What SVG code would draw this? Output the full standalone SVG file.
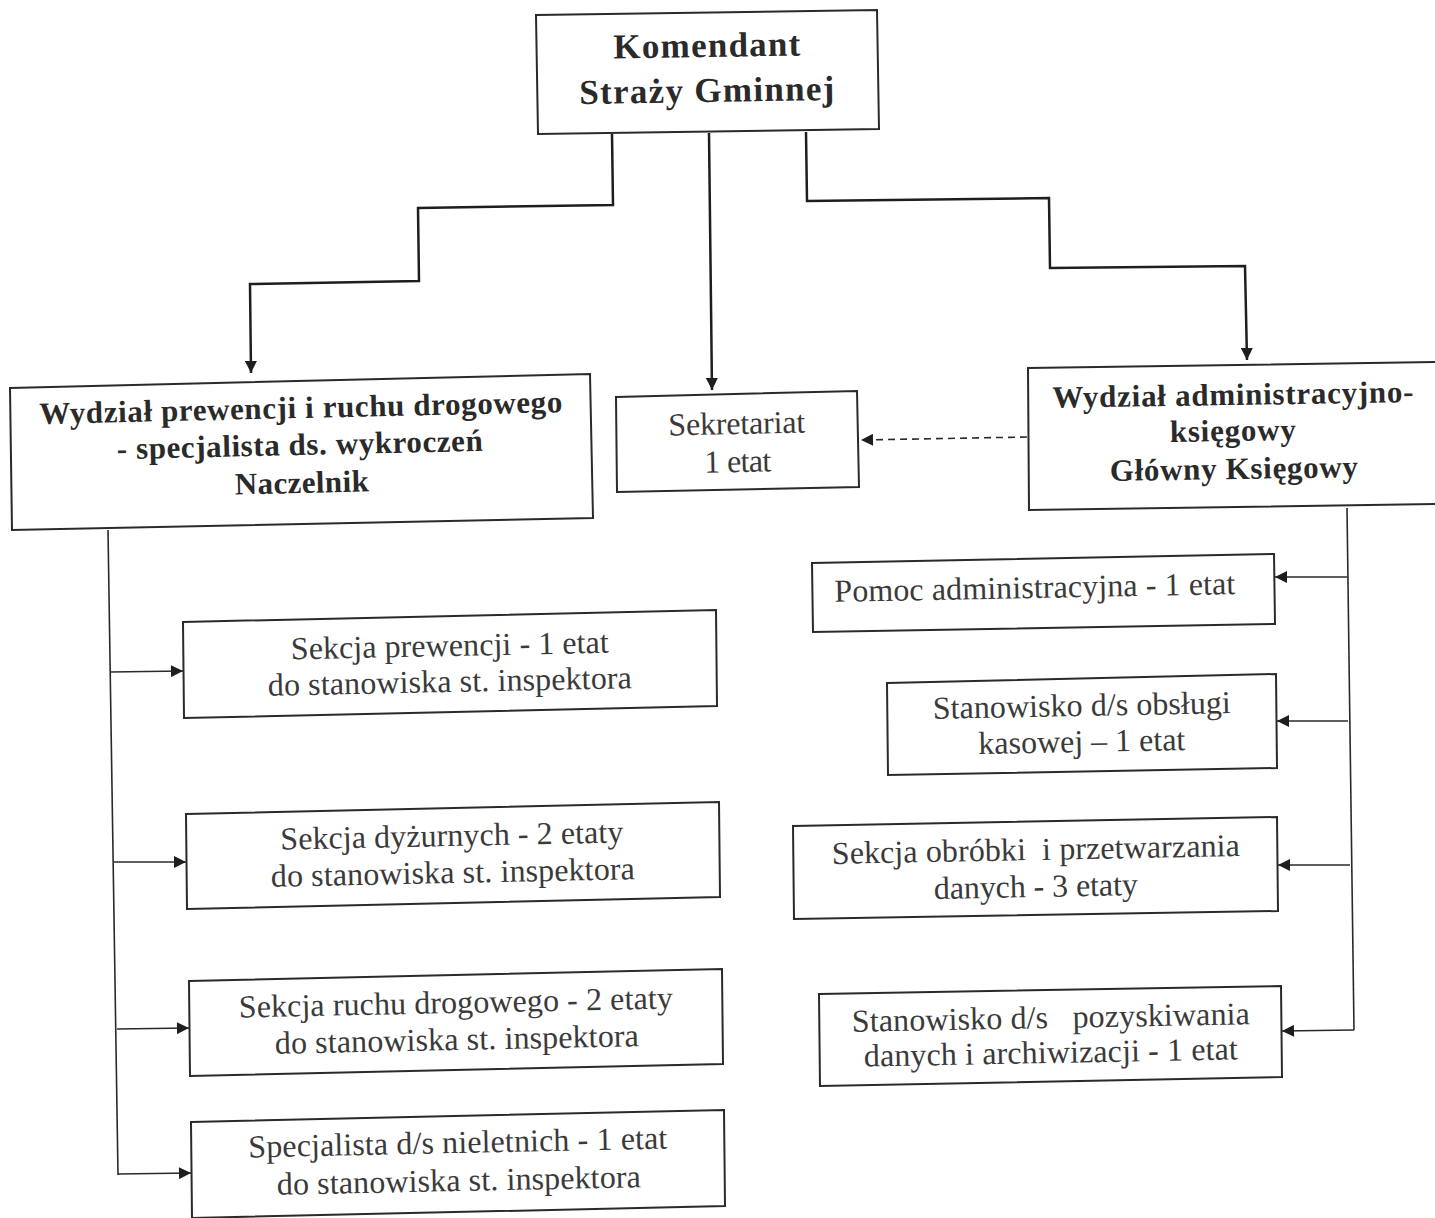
<svg xmlns="http://www.w3.org/2000/svg" width="1435" height="1218" viewBox="0 0 1435 1218">
<style>
.box{fill:#fff;stroke:#2a2a2a;stroke-width:2}
.t{font-family:"Liberation Serif","Times New Roman",serif;font-size:32px;fill:#3a3a3a;text-anchor:middle}
.b{font-family:"Liberation Serif","Times New Roman",serif;font-size:31px;font-weight:bold;fill:#2a2a2a;text-anchor:middle}
.big{font-size:35px}
.c{fill:none;stroke:#1e1e1e;stroke-width:2.5}
.s{fill:none;stroke:#2a2a2a;stroke-width:1.6}
.d{fill:none;stroke:#2a2a2a;stroke-width:1.6;stroke-dasharray:7 5}
</style>
<defs>
<marker id="ah" viewBox="0 0 10 10" refX="10" refY="5" markerWidth="16" markerHeight="12" markerUnits="userSpaceOnUse" orient="auto">
<path d="M0,0 L10,5 L0,10 z" fill="#1e1e1e"/>
</marker>
</defs>
<rect width="1435" height="1218" fill="#fff"/>

<g id="connectors">
<polyline class="c" points="612,134 613,205 418,208 419,281 250,284 251,373" marker-end="url(#ah)"/>
<polyline class="c" points="709,133 712,390" marker-end="url(#ah)"/>
<polyline class="c" points="806,132 807,201 1049,198 1050,268 1245,266 1247,360" marker-end="url(#ah)"/>
<line class="d" x1="1027" y1="437" x2="861" y2="440" marker-end="url(#ah)"/>
<polyline class="s" points="108,530 118,1175"/>
<line class="s" x1="110" y1="672" x2="183" y2="671" marker-end="url(#ah)"/>
<line class="s" x1="114" y1="862" x2="186" y2="862" marker-end="url(#ah)"/>
<line class="s" x1="117" y1="1029" x2="189" y2="1028" marker-end="url(#ah)"/>
<line class="s" x1="118" y1="1174" x2="191" y2="1173" marker-end="url(#ah)"/>
<polyline class="s" points="1347,508 1354,1030"/>
<line class="s" x1="1347" y1="577" x2="1275" y2="577" marker-end="url(#ah)"/>
<line class="s" x1="1348" y1="721" x2="1277" y2="721" marker-end="url(#ah)"/>
<line class="s" x1="1350" y1="865" x2="1278" y2="865" marker-end="url(#ah)"/>
<line class="s" x1="1354" y1="1030" x2="1282" y2="1031" marker-end="url(#ah)"/>
</g>

<g id="komendant">
<polygon class="box" points="536,15 877,10 879,129 538,134"/>
<text class="b big" x="707" y="57" textLength="187" lengthAdjust="spacing" transform="rotate(-0.9 707 57)">Komendant</text>
<text class="b big" x="707" y="102" textLength="255" lengthAdjust="spacing" transform="rotate(-0.9 707 102)">Straży Gminnej</text>
</g>

<g id="wydzial-prewencji">
<polygon class="box" points="10,388 590,374 593,518 12,530"/>
<text class="b" x="301" y="418" textLength="523" lengthAdjust="spacing" transform="rotate(-1.3 301 418)">Wydział prewencji i ruchu drogowego</text>
<text class="b" x="300" y="455" textLength="366" lengthAdjust="spacing" transform="rotate(-1.3 300 455)">- specjalista ds. wykroczeń</text>
<text class="b" x="302" y="493" textLength="134" lengthAdjust="spacing" transform="rotate(-1.3 302 493)">Naczelnik</text>
</g>

<g id="sekretariat">
<polygon class="box" points="616,397 857,391 859,487 617,492"/>
<text class="t" x="737" y="434" textLength="137" lengthAdjust="spacing" transform="rotate(-1.2 737 434)">Sekretariat</text>
<text class="t" x="738" y="472" textLength="67" lengthAdjust="spacing" transform="rotate(-1.2 738 472)">1 etat</text>
</g>

<g id="wydzial-administracyjny">
<polygon class="box" points="1028,368 1440,362 1440,504 1029,510"/>
<text class="b" x="1233" y="405" textLength="361" lengthAdjust="spacing" transform="rotate(-0.9 1233 405)">Wydział administracyjno-</text>
<text class="b" x="1233" y="441" textLength="126" lengthAdjust="spacing" transform="rotate(-0.9 1233 441)">księgowy</text>
<text class="b" x="1234" y="479" textLength="248" lengthAdjust="spacing" transform="rotate(-0.9 1234 479)">Główny Księgowy</text>
</g>

<g id="sekcja-prewencji">
<polygon class="box" points="183,622 716,610 717,706 184,718"/>
<text class="t" x="450" y="656" textLength="318" lengthAdjust="spacing" transform="rotate(-1.2 450 656)">Sekcja prewencji - 1 etat</text>
<text class="t" x="450" y="692" textLength="364" lengthAdjust="spacing" transform="rotate(-1.2 450 692)">do stanowiska st. inspektora</text>
</g>

<g id="sekcja-dyzurnych">
<polygon class="box" points="186,814 719,802 720,897 187,909"/>
<text class="t" x="452" y="846" textLength="343" lengthAdjust="spacing" transform="rotate(-1.2 452 846)">Sekcja dyżurnych - 2 etaty</text>
<text class="t" x="453" y="883" textLength="364" lengthAdjust="spacing" transform="rotate(-1.2 453 883)">do stanowiska st. inspektora</text>
</g>

<g id="sekcja-ruchu">
<polygon class="box" points="189,981 722,969 723,1064 190,1076"/>
<text class="t" x="456" y="1013" textLength="434" lengthAdjust="spacing" transform="rotate(-1.2 456 1013)">Sekcja ruchu drogowego - 2 etaty</text>
<text class="t" x="457" y="1050" textLength="364" lengthAdjust="spacing" transform="rotate(-1.2 457 1050)">do stanowiska st. inspektora</text>
</g>

<g id="specjalista-nieletnich">
<polygon class="box" points="191,1122 724,1110 725,1206 192,1218"/>
<text class="t" x="458" y="1153" textLength="419" lengthAdjust="spacing" transform="rotate(-1.2 458 1153)">Specjalista d/s nieletnich - 1 etat</text>
<text class="t" x="459" y="1191" textLength="364" lengthAdjust="spacing" transform="rotate(-1.2 459 1191)">do stanowiska st. inspektora</text>
</g>

<g id="pomoc-administracyjna">
<polygon class="box" points="812,563 1274,554 1275,624 813,632"/>
<text class="t" x="1035" y="598" textLength="401" lengthAdjust="spacing" transform="rotate(-1.1 1035 598)">Pomoc administracyjna - 1 etat</text>
</g>

<g id="obsluga-kasowa">
<polygon class="box" points="887,683 1276,674 1277,768 888,775"/>
<text class="t" x="1082" y="716" textLength="298" lengthAdjust="spacing" transform="rotate(-1.1 1082 716)">Stanowisko d/s obsługi</text>
<text class="t" x="1082" y="752" textLength="207" lengthAdjust="spacing" transform="rotate(-1.1 1082 752)">kasowej – 1 etat</text>
</g>

<g id="sekcja-obrobki">
<polygon class="box" points="793,826 1277,817 1278,911 794,919"/>
<text class="t" x="1036" y="860" textLength="408" lengthAdjust="spacing" xml:space="preserve" transform="rotate(-1.1 1036 860)">Sekcja obróbki  i przetwarzania</text>
<text class="t" x="1036" y="897" textLength="204" lengthAdjust="spacing" transform="rotate(-1.1 1036 897)">danych - 3 etaty</text>
</g>

<g id="pozyskiwanie-danych">
<polygon class="box" points="819,994 1281,986 1282,1077 820,1086"/>
<text class="t" x="1051" y="1028" textLength="398" lengthAdjust="spacing" xml:space="preserve" transform="rotate(-1.1 1051 1028)">Stanowisko d/s   pozyskiwania</text>
<text class="t" x="1051" y="1063" textLength="374" lengthAdjust="spacing" transform="rotate(-1.1 1051 1063)">danych i archiwizacji - 1 etat</text>
</g>
</svg>
